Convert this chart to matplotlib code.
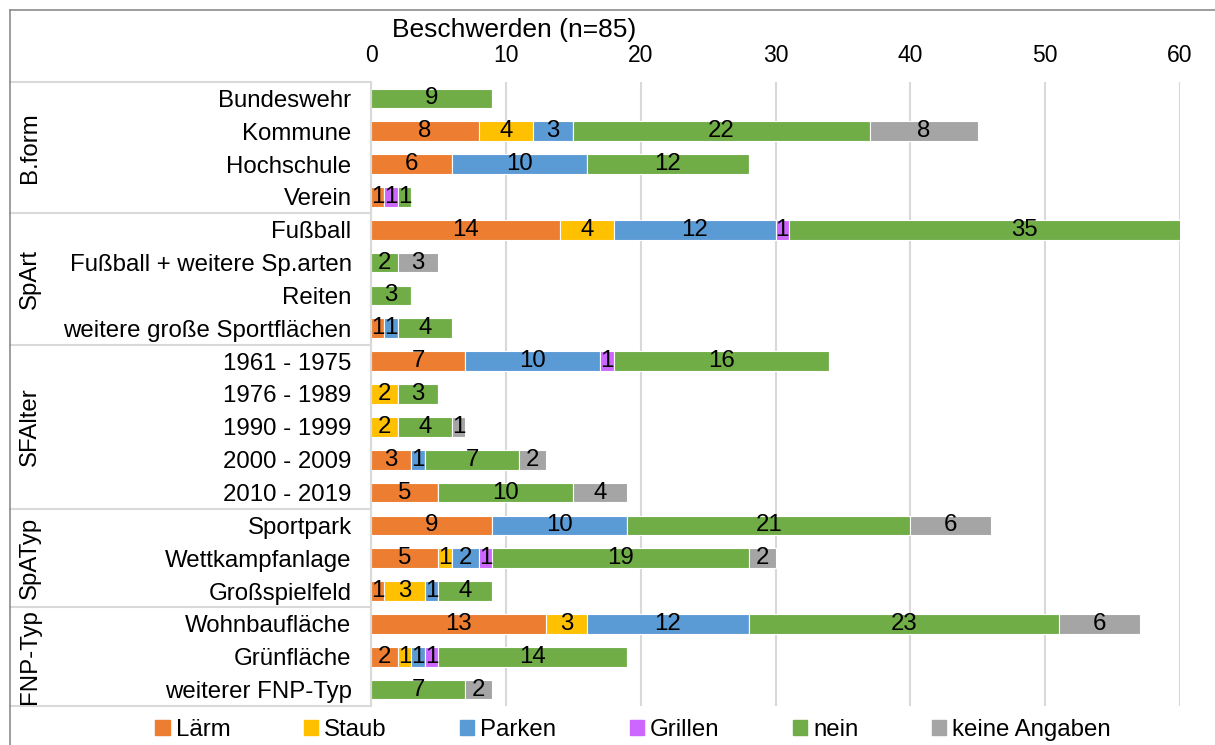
# Beschwerden nach Kategorie, gestapelte Balken
import numpy as np
import matplotlib.pyplot as plt
from matplotlib.patches import Patch
from matplotlib.lines import Line2D

plt.rcParams['font.family'] = ['Liberation Sans', 'DejaVu Sans']

categories = ['Bundeswehr', 'Kommune', 'Hochschule', 'Verein',
              'Fußball', 'Fußball + weitere Sp.arten', 'Reiten', 'weitere große Sportflächen',
              '1961 - 1975', '1976 - 1989', '1990 - 1999', '2000 - 2009', '2010 - 2019',
              'Sportpark', 'Wettkampfanlage', 'Großspielfeld',
              'Wohnbaufläche', 'Grünfläche', 'weiterer FNP-Typ']

groups = ['B.form', 'SpArt', 'SFAlter', 'SpATyp', 'FNP-Typ']
group_sizes = [4, 4, 5, 3, 3]

series = ['Lärm', 'Staub', 'Parken', 'Grillen', 'nein', 'keine Angaben']
colors = ['#ED7D31', '#FFC000', '#5B9BD5', '#CC66FF', '#70AD47', '#A5A5A5']

laerm   = [0, 8, 6, 1, 14, 0, 0, 1, 7, 0, 0, 3, 5, 9, 5, 1, 13, 2, 0]
staub   = [0, 4, 0, 0, 4, 0, 0, 0, 0, 2, 2, 0, 0, 0, 1, 3, 3, 1, 0]
parken  = [0, 3, 10, 0, 12, 0, 0, 1, 10, 0, 0, 1, 0, 10, 2, 1, 12, 1, 0]
grillen = [0, 0, 0, 1, 1, 0, 0, 0, 1, 0, 0, 0, 0, 0, 1, 0, 0, 1, 0]
nein    = [9, 22, 12, 1, 35, 2, 3, 4, 16, 3, 4, 7, 10, 21, 19, 4, 23, 14, 7]
keine   = [0, 8, 0, 0, 0, 3, 0, 0, 0, 0, 1, 2, 4, 6, 2, 0, 6, 0, 2]

xticks = [0, 10, 20, 30, 40, 50, 60]

FS = 17.3

fig = plt.figure(figsize=(12.15, 7.45), dpi=100)
W, H = 1215, 745
ax = fig.add_axes([371 / W, 1 - 706 / H, (1180 - 371) / W, (706 - 82) / H])

y = np.arange(len(categories))
left = np.zeros(len(categories))
for name, vals, c in zip(series, [laerm, staub, parken, grillen, nein, keine], colors):
    vals = np.array(vals, dtype=float)
    ax.barh(y, vals, left=left, height=0.6, color=c, edgecolor='white',
            linewidth=0.8, label=name)
    # labels sit in the middle of the full (unclipped) segment, like Excel
    for yi, l, v in zip(y, left, vals):
        if v > 0:
            ax.text(l + v / 2, yi, str(int(v)), ha='center', va='center',
                    fontsize=FS, color='black')
    left += vals

ax.set_xlim(0, 60)
ax.set_ylim(len(categories) - 0.5, -0.5)
ax.set_xticks(xticks)
ax.xaxis.tick_top()
ax.tick_params(axis='x', length=0, pad=11, labelsize=16.5)
ax.set_yticks(y)
ax.set_yticklabels(categories, fontsize=FS)
ax.tick_params(axis='y', length=0, pad=14)
ax.grid(axis='x', color='#d9d9d9', linewidth=1.5)
ax.set_axisbelow(True)
for s in ['top', 'right', 'bottom']:
    ax.spines[s].set_visible(False)
ax.spines['left'].set_color('#d9d9d9')
ax.spines['left'].set_linewidth(1.5)

# group labels and separators in the label area
trans = ax.get_yaxis_transform()
start = 0
bounds = [-0.5]
for g, n in zip(groups, group_sizes):
    mid = start + (n - 1) / 2
    ax.text(-(371 - 30) / (1180 - 371), mid, g, transform=trans, rotation=90,
            ha='center', va='center', fontsize=FS)
    start += n
    bounds.append(start - 0.5)
for b in bounds:
    ax.add_line(Line2D([-(371 - 10) / (1180 - 371), 0], [b, b], transform=trans,
                       color='#d9d9d9', linewidth=1.5, clip_on=False))

# outer frame
fig.add_artist(Line2D([10 / W, 10 / W], [0, 1 - 10 / H], color='#8c8c8c', linewidth=1.2))
fig.add_artist(Line2D([10 / W, 1], [1 - 10 / H, 1 - 10 / H], color='#8c8c8c', linewidth=1.2))

fig.text(514 / W, 1 - 30 / H, 'Beschwerden (n=85)', ha='center', va='center', fontsize=19)

handles = [Patch(color=c) for c in colors]
fig.legend(handles, series, loc='center', bbox_to_anchor=(633 / W, 1 - 730 / H), ncol=6,
           frameon=False, fontsize=FS, handlelength=0.6, handleheight=0.6,
           handletextpad=0.25, columnspacing=3.05)

fig.savefig('out.png', dpi=100)
